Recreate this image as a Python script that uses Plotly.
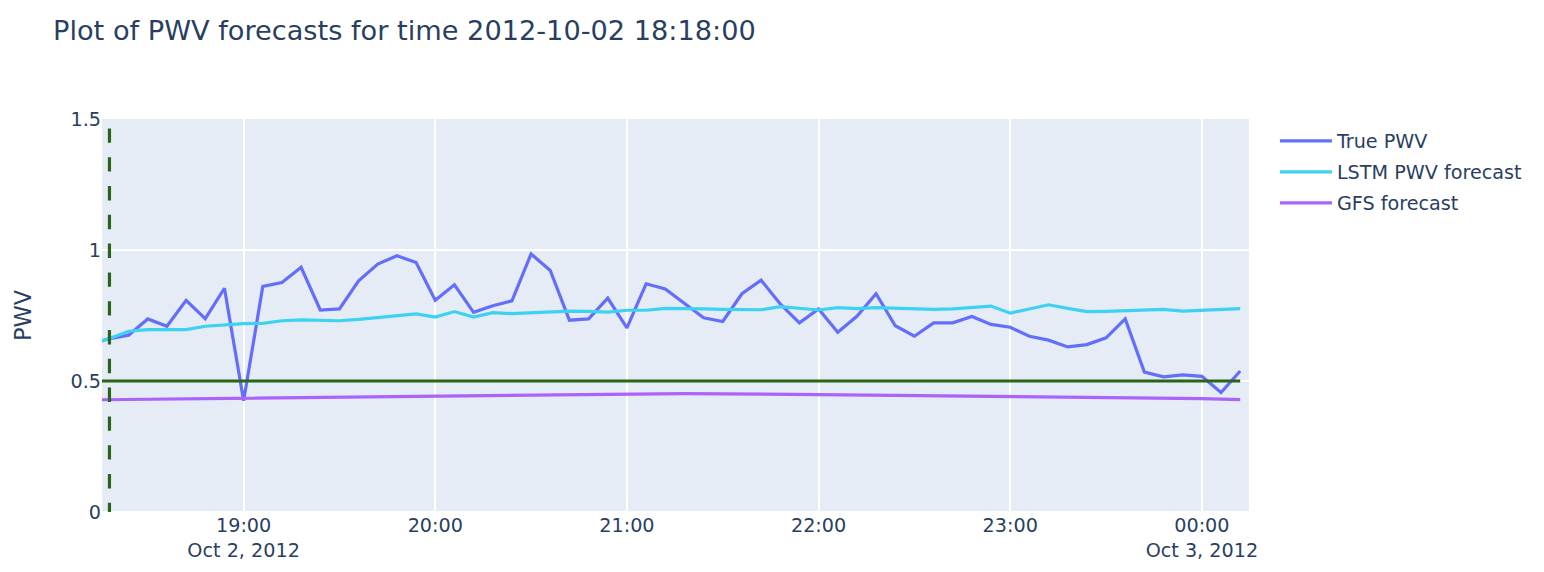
import pandas as pd
import plotly.graph_objects as go

# ---- data ----
times = pd.date_range("2012-10-02 18:12", "2012-10-03 00:12", freq="6min")

true_pwv = [0.640, 0.662, 0.675, 0.737, 0.709, 0.808, 0.738, 0.854, 0.425, 0.861,
            0.876, 0.934, 0.771, 0.775, 0.882, 0.946, 0.978, 0.952, 0.808, 0.867,
            0.762, 0.787, 0.806, 0.985, 0.922, 0.732, 0.737, 0.816, 0.703, 0.871,
            0.851, 0.797, 0.741, 0.727, 0.833, 0.885, 0.794, 0.722, 0.775, 0.686,
            0.747, 0.833, 0.711, 0.671, 0.722, 0.722, 0.746, 0.716, 0.705, 0.671,
            0.656, 0.630, 0.639, 0.665, 0.737, 0.534, 0.516, 0.523, 0.518, 0.456,
            0.538]

lstm_pwv = [0.640, 0.662, 0.690, 0.696, 0.696, 0.696, 0.709, 0.714, 0.719, 0.720,
            0.730, 0.733, 0.733, 0.730, 0.735, 0.742, 0.748, 0.756, 0.744, 0.765,
            0.744, 0.761, 0.757, 0.761, 0.763, 0.767, 0.766, 0.763, 0.770, 0.770,
            0.777, 0.777, 0.775, 0.773, 0.772, 0.772, 0.784, 0.776, 0.771, 0.780,
            0.776, 0.780, 0.777, 0.775, 0.773, 0.775, 0.780, 0.786, 0.759, 0.776,
            0.791, 0.777, 0.765, 0.766, 0.768, 0.771, 0.773, 0.767, 0.771, 0.772,
            0.776]

gfs_times = ["2012-10-02 18:12", "2012-10-02 19:00", "2012-10-02 20:00",
             "2012-10-02 21:00", "2012-10-02 21:18", "2012-10-02 22:00",
             "2012-10-02 23:00", "2012-10-03 00:00", "2012-10-03 00:12"]
gfs_pwv = [0.428, 0.434, 0.442, 0.449, 0.452, 0.448, 0.441, 0.433, 0.429]

forecast_time = "2012-10-02 18:18:00"
threshold = 0.5
x_range = ["2012-10-02 18:15:40", "2012-10-03 00:14:45"]
y_range = [0, 1.5]
y_ticks = [0, 0.5, 1, 1.5]

FONT = "DejaVu Sans, Verdana, sans-serif"
GREEN = "#2a6419"
W, H = 1528, 556

fig = go.Figure()
fig.add_trace(go.Scatter(x=times, y=true_pwv, mode="lines", name="True PWV",
                         legendgroup="a", line=dict(color="#636efa", width=3.2)))
fig.add_trace(go.Scatter(x=times, y=lstm_pwv, mode="lines", name="LSTM PWV forecast",
                         legendgroup="b", line=dict(color="#3dd2f2", width=3.2)))
fig.add_trace(go.Scatter(x=pd.to_datetime(gfs_times), y=gfs_pwv, mode="lines",
                         name="GFS forecast", legendgroup="c",
                         line=dict(color="#ab63fa", width=3.2)))

# threshold line across the data span
fig.add_shape(type="line", xref="x", yref="y", x0=times[0], x1=times[-1],
              y0=threshold, y1=threshold, line=dict(color=GREEN, width=3.2))
# forecast time marker
fig.add_shape(type="line", xref="x", yref="y", x0=forecast_time, x1=forecast_time,
              y0=1.574, y1=0, line=dict(color=GREEN, width=3.2, dash="14.4px,14.4px"))

fig.update_layout(
    width=W, height=H,
    template="plotly",
    font=dict(family=FONT, size=19.2, color="#2a3f5f"),
    title=dict(text="Plot of PWV forecasts for time " + forecast_time,
               x=45 / W, xanchor="left", xref="container",
               y=1 - 22 / H, yanchor="middle", yref="container",
               font=dict(size=27.2)),
    margin=dict(l=94, r=287, t=111, b=52, autoexpand=False),
    legend=dict(font=dict(size=19.2), itemwidth=52, tracegroupgap=3,
                x=1.0226, y=0.9924),
    xaxis=dict(range=x_range, type="date", automargin=False, gridwidth=1.6),
    yaxis=dict(range=y_range, tickvals=y_ticks, ticktext=["0", "0.5", "1", "1.5"],
               automargin=False, gridwidth=1.6,
               title=dict(text="PWV", font=dict(size=22.4), standoff=32)),
)

fig.write_html("out.html")
